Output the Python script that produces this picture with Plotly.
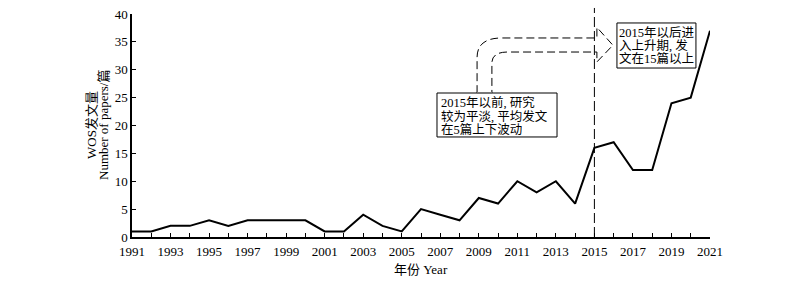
import plotly.graph_objects as go

years = list(range(1991, 2022))
papers = [1, 1, 2, 2, 3, 2, 3, 3, 3, 3, 1, 1, 4, 2, 1, 5, 4, 3, 7, 6, 10, 8, 10, 6, 16, 17, 12, 12, 24, 25, 37]
x_tick_years = list(range(1991, 2022, 2))
y_ticks = [0, 5, 10, 15, 20, 25, 30, 35, 40]
box1_lines = ["2015年以前, 研究", "较为平淡, 平均发文", "在5篇上下波动"]
box2_lines = ["2015年以后进", "入上升期, 发", "文在15篇以上"]

FONT = "Liberation Serif, Noto Sans CJK SC, serif"

fig = go.Figure()
fig.add_trace(go.Scatter(x=years, y=papers, mode="lines",
                         line=dict(color="black", width=2), showlegend=False))

shapes = []
# vertical dashed line at 2015
shapes.append(dict(type="line", xref="x", yref="paper", x0=2015, x1=2015, y0=0, y1=1.027,
                   line=dict(color="black", width=1, dash="10px,4px")))
# hollow bent arrow
arrow_path = ("M 2008.91,25.8 L 2008.91,32.2 Q 2008.91,35.7 2010.2,35.7 L 2015.13,35.7 "
              "L 2015.13,37.6 L 2015.96,34.4 L 2015.13,31.4 L 2015.13,33.18 L 2010.5,33.18 "
              "Q 2009.68,33.18 2009.68,31.2 L 2009.68,25.8")
shapes.append(dict(type="path", xref="x", yref="y", path=arrow_path,
                   line=dict(color="black", width=1, dash="8px,4px")))
# boxes
shapes.append(dict(type="rect", xref="x", yref="y", x0=2006.83, x1=2013.06, y0=17.94, y1=25.83,
                   line=dict(color="black", width=1), fillcolor="white", layer="above"))
shapes.append(dict(type="line", xref="x", yref="y", x0=2008.91, x1=2009.68, y0=25.83, y1=25.83,
                   line=dict(color="#777", width=2)))
shapes.append(dict(type="rect", xref="x", yref="y", x0=2016.17, x1=2020.27, y0=30.31, y1=38.39,
                   line=dict(color="black", width=1), fillcolor="white", layer="above"))

annotations = []
for txt, yy in zip(box1_lines, [24.2, 21.7, 19.3]):
    annotations.append(dict(x=2007.0, y=yy, xref="x", yref="y", text=txt, showarrow=False,
                            xanchor="left", yanchor="middle", height=13, borderpad=0,
                            font=dict(family=FONT, size=12.5, color="black")))
for txt, yy in zip(box2_lines, [36.77, 34.35, 31.93]):
    annotations.append(dict(x=2016.22, y=yy, xref="x", yref="y", text=txt, showarrow=False,
                            xanchor="left", yanchor="middle", height=13, borderpad=0,
                            font=dict(family=FONT, size=12.5, color="black")))
# y axis titles
annotations.append(dict(x=0, y=0.5, xref="paper", yref="paper", xshift=-40.5, text="WOS发文量",
                        textangle=-90, showarrow=False, xanchor="center", yanchor="middle",
                        font=dict(family=FONT, size=13, color="black")))
annotations.append(dict(x=0, y=0.5, xref="paper", yref="paper", xshift=-28.5, text="Number of papers/篇",
                        textangle=-90, showarrow=False, xanchor="center", yanchor="middle",
                        font=dict(family=FONT, size=13, color="black")))
# x axis title
annotations.append(dict(x=0.5, y=0, xref="paper", yref="paper", yshift=-32, text="年份 Year",
                        showarrow=False, xanchor="center", yanchor="middle",
                        font=dict(family=FONT, size=13, color="black")))

fig.update_layout(
    width=800, height=282,
    margin=dict(l=132, r=90, t=14, b=45, autoexpand=False),
    paper_bgcolor="white", plot_bgcolor="white",
    font=dict(family=FONT, size=13, color="black"),
    shapes=shapes, annotations=annotations,
    xaxis=dict(range=[1991, 2021], tickvals=x_tick_years, ticktext=[str(v) for v in x_tick_years],
               ticks="inside", ticklen=4, tickcolor="black", showline=True, linecolor="black",
               linewidth=1.5, showgrid=False, zeroline=False, automargin=False,
               ticklabelstandoff=2,
               minor=dict(dtick=1, tick0=1991, ticks="inside", ticklen=4, tickcolor="black", showgrid=False),
               tickfont=dict(family=FONT, size=13)),
    yaxis=dict(range=[0, 40], tickvals=y_ticks, ticks="inside", ticklen=4, tickcolor="black",
               showline=True, linecolor="black", linewidth=1.5, showgrid=False, zeroline=False,
               automargin=False, tickfont=dict(family=FONT, size=13)),
)

fig.write_html("out.html")
